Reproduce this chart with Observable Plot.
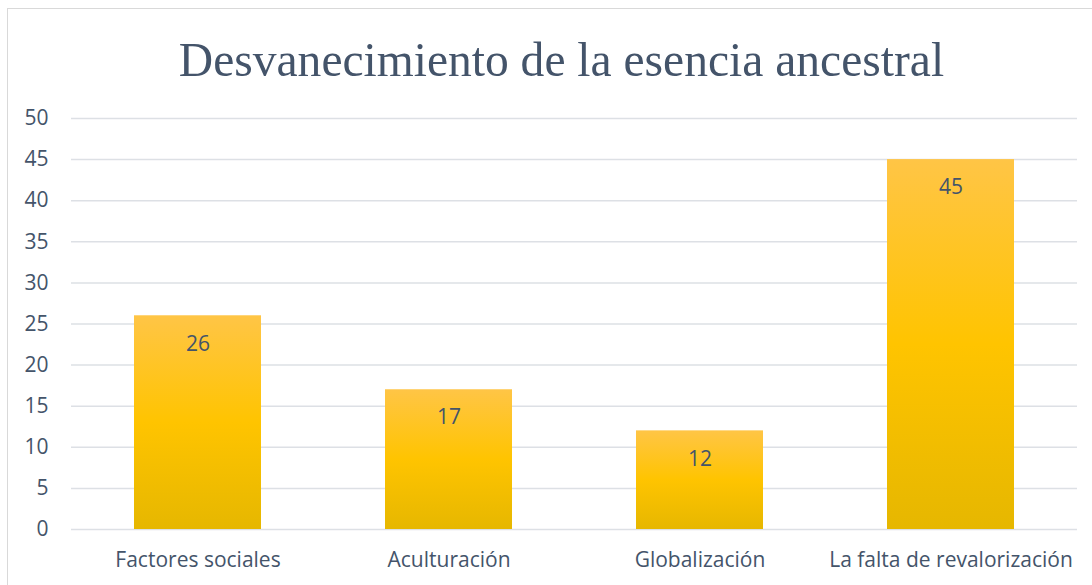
<!DOCTYPE html>
<html>
<head>
<meta charset="utf-8">
<script src="https://cdn.jsdelivr.net/npm/d3@7"></script>
<script src="https://cdn.jsdelivr.net/npm/@observablehq/plot@0.6"></script>
<style>
  html, body { margin: 0; padding: 0; background: #fff; width: 1092px; height: 585px; overflow: hidden; }
  #frame { position: absolute; left: 7px; top: 8px; width: 1200px; height: 700px; border: 1px solid #D9D9D9; box-sizing: border-box; }
  #title { position: absolute; left: 15px; top: 0; width: 1092px; height: 100px; text-align: center;
           font-family: "Liberation Serif", "Times New Roman", serif; font-size: 48px; color: #44546A; line-height: 1; padding-top: 36px; box-sizing: border-box; }
  #chart { position: absolute; left: 0; top: 100px; }
</style>
</head>
<body>
<div id="frame"></div>
<div id="title"><span id="tt" style="display:inline-block; transform: scale(0.99, 1.03); transform-origin: center bottom;">Desvanecimiento de la esencia ancestral</span></div>
<div id="chart"></div>
<script>
const categories = ["Factores sociales", "Aculturación", "Globalización", "La falta de revalorización"];
const values = [26, 17, 12, 45];
const yTicks = [0, 5, 10, 15, 20, 25, 30, 35, 40, 45, 50];

const data = categories.map((c, i) => ({category: c, value: values[i]}));
const textColor = "#44546A";
const font = "'Open Sans', 'Noto Sans', sans-serif";

const plot = Plot.plot({
  width: 1092,
  height: 485,
  marginLeft: 71,
  marginRight: 15,
  marginTop: 18,
  marginBottom: 56,
  style: {fontFamily: font, fontSize: "21px", color: textColor, background: "transparent"},
  x: {domain: categories, paddingInner: 0.495, paddingOuter: 0.2475, align: 0.5, label: null, tickSize: 0, tickPadding: 23},
  y: {domain: [0, 50], ticks: yTicks, label: null, tickSize: 0, tickPadding: 23},
  marks: [
    Plot.gridY(yTicks, {stroke: "#DDE0E5", strokeOpacity: 1, strokeWidth: 1.5}),
    Plot.barY(data, {x: "category", y: "value", fill: "url(#barGrad)"}),
    Plot.text(data, {x: "category", y: "value", text: d => String(d.value), dy: 28, fill: textColor, fontSize: 21})
  ]
});

const defs = d3.select(plot).insert("defs", ":first-child");
const g = defs.append("linearGradient").attr("id", "barGrad").attr("x1", 0).attr("y1", 0).attr("x2", 0).attr("y2", 1);
g.append("stop").attr("offset", "0%").attr("stop-color", "#FFC546");
g.append("stop").attr("offset", "50%").attr("stop-color", "#FFC400");
g.append("stop").attr("offset", "100%").attr("stop-color", "#E6B700");

document.getElementById("chart").appendChild(plot);
</script>
</body>
</html>
